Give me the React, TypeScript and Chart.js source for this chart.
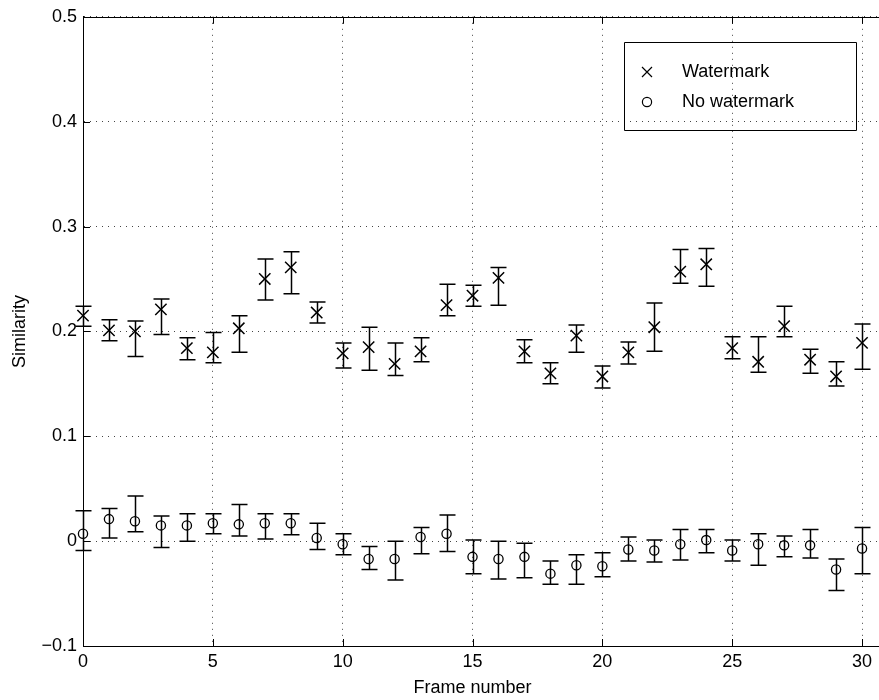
import React, { useEffect, useRef } from "react";
import { Chart, registerables } from "chart.js";

Chart.register(...registerables);

// ---------- data ----------
const frames = [0, 1, 2, 3, 4, 5, 6, 7, 8, 9, 10, 11, 12, 13, 14, 15, 16, 17, 18, 19, 20, 21, 22, 23, 24, 25, 26, 27, 28, 29, 30];

const wmMean = [0.215, 0.201, 0.200, 0.221, 0.184, 0.180, 0.203, 0.250, 0.261, 0.218, 0.179, 0.185, 0.169, 0.181, 0.225, 0.234, 0.251, 0.181, 0.160, 0.196, 0.157, 0.180, 0.204, 0.257, 0.264, 0.184, 0.171, 0.205, 0.173, 0.157, 0.189];
const wmHigh = [0.224, 0.211, 0.210, 0.231, 0.194, 0.199, 0.215, 0.269, 0.276, 0.228, 0.189, 0.204, 0.189, 0.194, 0.245, 0.244, 0.261, 0.192, 0.170, 0.206, 0.167, 0.190, 0.227, 0.278, 0.279, 0.195, 0.195, 0.224, 0.183, 0.171, 0.207];
const wmLow = [0.205, 0.191, 0.176, 0.197, 0.173, 0.170, 0.180, 0.230, 0.236, 0.208, 0.165, 0.163, 0.158, 0.171, 0.215, 0.224, 0.225, 0.170, 0.150, 0.180, 0.146, 0.169, 0.181, 0.246, 0.243, 0.174, 0.161, 0.195, 0.160, 0.148, 0.164];

const nwMean = [0.007, 0.021, 0.019, 0.015, 0.015, 0.017, 0.016, 0.017, 0.017, 0.003, -0.003, -0.017, -0.017, 0.004, 0.007, -0.015, -0.017, -0.015, -0.031, -0.023, -0.024, -0.008, -0.009, -0.003, 0.001, -0.009, -0.003, -0.004, -0.004, -0.027, -0.007];
const nwHigh = [0.029, 0.031, 0.043, 0.024, 0.026, 0.026, 0.035, 0.026, 0.026, 0.017, 0.007, -0.005, 0.000, 0.013, 0.025, 0.001, 0.000, -0.002, -0.019, -0.013, -0.011, 0.004, 0.001, 0.011, 0.011, 0.001, 0.007, 0.005, 0.011, -0.017, 0.013];
const nwLow = [-0.009, 0.003, 0.009, -0.006, 0.000, 0.007, 0.005, 0.002, 0.006, -0.008, -0.013, -0.027, -0.037, -0.012, -0.010, -0.031, -0.036, -0.035, -0.041, -0.041, -0.034, -0.019, -0.020, -0.018, -0.011, -0.019, -0.023, -0.015, -0.016, -0.047, -0.031];

const xTickValues = [0, 5, 10, 15, 20, 25, 30];
const yTickValues = [-0.1, 0, 0.1, 0.2, 0.3, 0.4, 0.5];
const seriesLabels = ["Watermark", "No watermark"];
const xTitle = "Frame number";
const yTitle = "Similarity";

const FONT = '"Liberation Sans", Arial, Helvetica, sans-serif';

function fmtY(v: number): string {
  if (Math.abs(v) < 1e-9) return "0";
  const s = Math.abs(v).toFixed(1);
  return v < 0 ? "\u2212" + s : s;
}

export default function App() {
  const ref = useRef<HTMLCanvasElement>(null);

  useEffect(() => {
    const canvas = ref.current;
    if (!canvas) return;

    const errorBars = {
      id: "errorBars",
      afterDatasetsDraw(chart: any) {
        const { ctx, scales } = chart;
        const x = scales.x;
        const y = scales.y;
        const sets = [
          [wmLow, wmHigh],
          [nwLow, nwHigh],
        ];
        ctx.save();
        ctx.strokeStyle = "#000";
        ctx.lineWidth = 1.5;
        sets.forEach(([lo, hi]) => {
          frames.forEach((f, i) => {
            const px = Math.round(x.getPixelForValue(f)) + 0.5;
            const yl = y.getPixelForValue(lo[i]);
            const yh = y.getPixelForValue(hi[i]);
            ctx.beginPath();
            ctx.moveTo(px, yl);
            ctx.lineTo(px, yh);
            ctx.moveTo(px - 8, yl);
            ctx.lineTo(px + 8, yl);
            ctx.moveTo(px - 8, yh);
            ctx.lineTo(px + 8, yh);
            ctx.stroke();
          });
        });
        ctx.restore();
      },
    };

    const framePlugin = {
      id: "framePlugin",
      afterDraw(chart: any) {
        const { ctx, chartArea, scales } = chart;
        const x = scales.x;
        const y = scales.y;
        const { left, right, top, bottom } = chartArea;
        ctx.save();
        ctx.strokeStyle = "#000";
        ctx.lineWidth = 1;
        // top border
        ctx.beginPath();
        ctx.moveTo(left, Math.round(top) + 0.5);
        ctx.lineTo(right, Math.round(top) + 0.5);
        ctx.stroke();
        // inner ticks
        ctx.beginPath();
        yTickValues.forEach((v) => {
          const py = Math.round(y.getPixelForValue(v)) + 0.5;
          ctx.moveTo(left, py);
          ctx.lineTo(left + 7, py);
        });
        xTickValues.forEach((v) => {
          const px = Math.round(x.getPixelForValue(v)) + 0.5;
          ctx.moveTo(px, bottom);
          ctx.lineTo(px, bottom - 7);
          ctx.moveTo(px, top);
          ctx.lineTo(px, top + 7);
        });
        ctx.stroke();

        // x title
        ctx.fillStyle = "#000";
        ctx.font = "18px " + FONT;
        ctx.textAlign = "center";
        ctx.textBaseline = "middle";
        ctx.fillText(xTitle, x.getPixelForValue(15), 688);

        // legend
        ctx.beginPath();
        ctx.rect(624.5, 42.5, 232, 88);
        ctx.stroke();
        // cross marker
        ctx.lineWidth = 1.2;
        ctx.beginPath();
        ctx.moveTo(642, 67);
        ctx.lineTo(652, 77);
        ctx.moveTo(652, 67);
        ctx.lineTo(642, 77);
        ctx.stroke();
        // circle marker
        ctx.beginPath();
        ctx.arc(647, 102, 4.6, 0, Math.PI * 2);
        ctx.stroke();
        ctx.textAlign = "left";
        ctx.fillText(seriesLabels[0], 682, 72);
        ctx.fillText(seriesLabels[1], 682, 102);
        ctx.restore();
      },
    };

    const chart = new Chart(canvas, {
      type: "scatter",
      data: {
        datasets: [
          {
            label: seriesLabels[0],
            data: frames.map((f, i) => ({ x: f, y: wmMean[i] })),
            pointStyle: "crossRot",
            pointRadius: 8,
            pointBorderWidth: 1.5,
            borderColor: "#000",
            backgroundColor: "transparent",
            showLine: false,
            clip: false,
          } as any,
          {
            label: seriesLabels[1],
            data: frames.map((f, i) => ({ x: f, y: nwMean[i] })),
            pointStyle: "circle",
            pointRadius: 4.6,
            pointBorderWidth: 1.3,
            borderColor: "#000",
            backgroundColor: "transparent",
            showLine: false,
            clip: false,
          } as any,
        ],
      },
      options: {
        responsive: false,
        animation: false,
        devicePixelRatio: 1,
        layout: { padding: { top: 15, right: 12, left: 0, bottom: 0 } },
        plugins: {
          legend: { display: false },
          tooltip: { enabled: false },
        },
        scales: {
          x: {
            type: "linear",
            min: 0,
            max: 31,
            afterBuildTicks: (scale: any) => {
              scale.ticks = xTickValues.map((v) => ({ value: v }));
            },
            afterFit: (scale: any) => {
              scale.height = 54;
            },
            ticks: {
              color: "#000",
              font: { family: FONT, size: 18 },
              padding: 5,
              maxRotation: 0,
              callback: (v: any) => String(v),
            },
            grid: {
              color: "#444",
              lineWidth: 1,
              drawTicks: false,
            },
            border: { display: true, color: "#000", width: 1, dash: [1, 5] },
          },
          y: {
            type: "linear",
            min: -0.1,
            max: 0.5,
            afterBuildTicks: (scale: any) => {
              scale.ticks = yTickValues.map((v) => ({ value: v }));
            },
            afterFit: (scale: any) => {
              scale.width = 83;
            },
            ticks: {
              color: "#000",
              font: { family: FONT, size: 18 },
              padding: 6,
              callback: (v: any) => fmtY(Number(v)),
            },
            grid: {
              color: "#444",
              lineWidth: 1,
              drawTicks: false,
            },
            border: { display: true, color: "#000", width: 1, dash: [1, 5] },
            title: {
              display: true,
              text: yTitle,
              color: "#000",
              font: { family: FONT, size: 18 },
              padding: { top: 9, bottom: 4 },
            },
          },
        },
      },
      plugins: [errorBars, framePlugin],
    });

    return () => {
      chart.destroy();
    };
  }, []);

  return (
    <div
      style={{
        position: "absolute",
        left: 0,
        top: 0,
        width: 879,
        height: 700,
        overflow: "hidden",
        background: "#fff",
      }}
    >
      <canvas ref={ref} width={900} height={700} style={{ display: "block" }} />
    </div>
  );
}
